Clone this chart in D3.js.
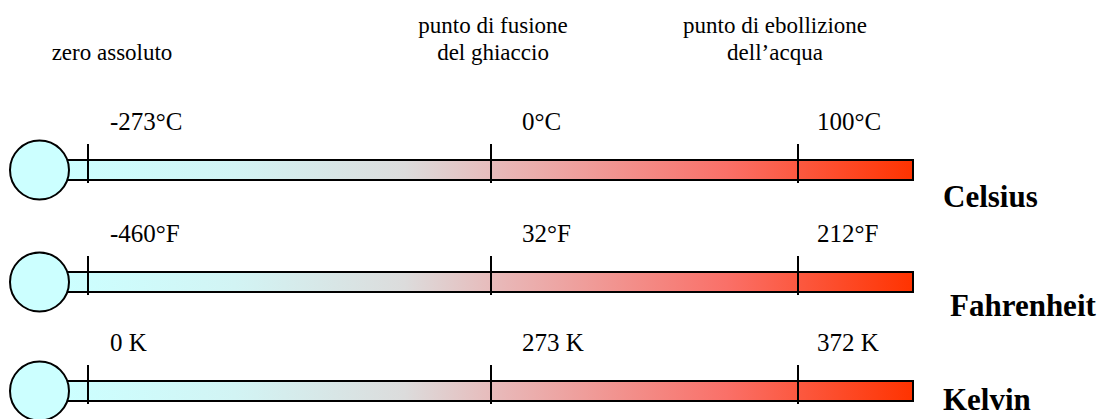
<!DOCTYPE html>
<html>
<head>
<meta charset="utf-8">
<script src="https://cdn.jsdelivr.net/npm/d3@7"></script>
<style>
  body { margin: 0; background: white; }
  text { font-family: "Liberation Serif", "Times New Roman", serif; fill: black; }
</style>
</head>
<body>
<div id="chart"></div>
<script>
// dati
var scaleNames = ['Celsius', 'Fahrenheit', 'Kelvin'];
var refPoints = ['zero', 'fusione', 'ebollizione'];
var refTitles = [
  ['zero assoluto'],
  ['punto di fusione', 'del ghiaccio'],
  ['punto di ebollizione', 'dell\u2019acqua']
];
var celsiusLabels = ['-273°C', '0°C', '100°C'];
var fahrenheitLabels = ['-460°F', '32°F', '212°F'];
var kelvinLabels = ['0 K', '273 K', '372 K'];
var rowLabels = [celsiusLabels, fahrenheitLabels, kelvinLabels];

var width = 1102, height = 419;
var tubeLeft = 40, tubeRight = 913, tubeH = 20, bulbR = 29.5;

// scale
var x = d3.scaleOrdinal().domain(refPoints).range([88, 491, 798]);
var y = d3.scaleOrdinal().domain(scaleNames).range([170, 282, 391]);
var labelDx = [22, 31, 19];
var titleDx = [24, 2, -23];
var nameX = [943, 950, 943];
var nameDy = [37, 34, 19];

var svg = d3.select('#chart')
  .append('svg')
  .attr('width', width)
  .attr('height', height);

var grad = svg.append('defs')
  .append('linearGradient')
  .attr('id', 'tubo')
  .attr('gradientUnits', 'userSpaceOnUse')
  .attr('x1', 65).attr('x2', tubeRight)
  .attr('y1', 0).attr('y2', 0);

grad.selectAll('stop')
  .data([[0, '#ccffff'], [0.2, '#d2f4f4'], [0.4, '#dcdcdc'], [0.52, '#e9b6b6'], [0.78, '#fa7068'], [1, '#ff3300']])
  .enter()
  .append('stop')
  .attr('offset', d => d[0])
  .attr('stop-color', d => d[1]);

// titoli in alto
var titles = svg.selectAll('.title')
  .data(refPoints)
  .enter()
  .append('text')
  .attr('class', 'title')
  .attr('text-anchor', 'middle')
  .style('font-size', '23px')
  .attr('transform', (d, i) => 'translate(' + (x(d) + titleDx[i]) + ',0)');

titles.selectAll('tspan')
  .data((d, i) => refTitles[i].map((t, j) => ({t: t, j: j, n: refTitles[i].length})))
  .enter()
  .append('tspan')
  .attr('x', 0)
  .attr('y', d => d.n == 1 ? 60 : 33 + d.j * 27)
  .text(d => d.t);

// termometri
var rows = svg.selectAll('.row')
  .data(scaleNames)
  .enter()
  .append('g')
  .attr('class', 'row')
  .attr('transform', d => 'translate(0,' + y(d) + ')');

rows.append('rect')
  .attr('x', tubeLeft)
  .attr('y', -tubeH / 2)
  .attr('width', tubeRight - tubeLeft)
  .attr('height', tubeH)
  .attr('fill', 'url(#tubo)')
  .attr('stroke', 'black')
  .attr('stroke-width', 2);

rows.append('circle')
  .attr('cx', 39.5)
  .attr('cy', 0)
  .attr('r', bulbR)
  .attr('fill', '#ccffff')
  .attr('stroke', 'black')
  .attr('stroke-width', 2);

rows.selectAll('.tick')
  .data(refPoints)
  .enter()
  .append('line')
  .attr('class', 'tick')
  .attr('x1', d => x(d)).attr('x2', d => x(d))
  .attr('y1', -26).attr('y2', 13)
  .attr('stroke', 'black')
  .attr('stroke-width', 2);

rows.selectAll('.lab')
  .data((d, i) => rowLabels[i].map((t, j) => ({t: t, p: refPoints[j], j: j})))
  .enter()
  .append('text')
  .attr('class', 'lab')
  .attr('x', d => x(d.p) + labelDx[d.j])
  .attr('y', -40)
  .style('font-size', '25px')
  .text(d => d.t);

rows.append('text')
  .attr('x', (d, i) => nameX[i])
  .attr('y', (d, i) => nameDy[i])
  .style('font-size', '31px')
  .style('font-weight', 'bold')
  .text(d => d);
</script>
</body>
</html>
